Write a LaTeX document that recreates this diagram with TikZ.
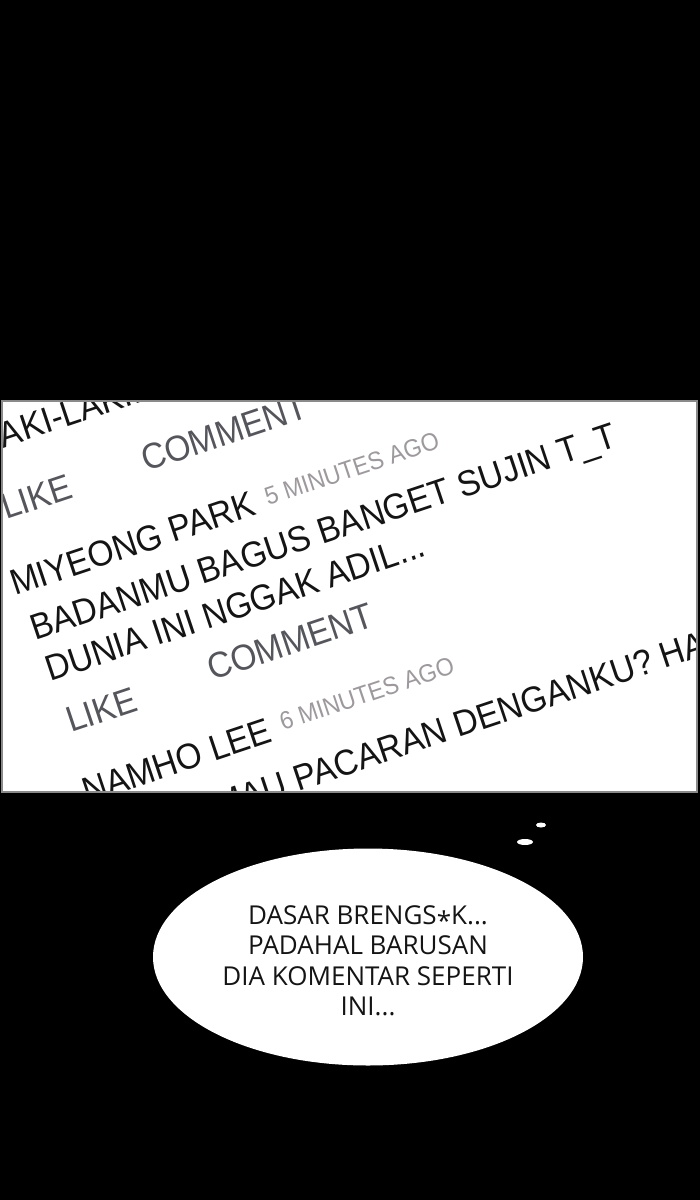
\documentclass[tikz,border=0pt]{standalone}
\usepackage{fontspec}
\newfontfamily\cmtfont[FakeStretch=0.93]{Liberation Sans}
\newfontfamily\bubfont{Open Sans}
\definecolor{txtblack}{HTML}{141414}
\definecolor{actgray}{HTML}{55555C}
\definecolor{timegray}{HTML}{9D999D}
\definecolor{edgegray}{HTML}{8A8A8A}
\tikzset{
  cmt/.style={anchor=base west, inner sep=0pt, rotate=18.5, text=txtblack,
    font=\cmtfont\fontsize{36}{36}\selectfont},
  act/.style={cmt, text=actgray},
  stamp/.style={anchor=base west, inner sep=0pt, rotate=18.5, text=timegray,
    font=\cmtfont\fontsize{25}{25}\selectfont},
  bubtext/.style={inner sep=0pt, align=center, text=txtblack,
    font=\bubfont\fontsize{26}{30.5}\selectfont}
}
\begin{document}
\begin{tikzpicture}[x=1pt,y=-1pt]
\useasboundingbox (0,0) rectangle (700,1200);
\fill[black] (0,0) rectangle (700,1200);
% panel
\fill[white] (2,401) rectangle (697,792);
\begin{scope}
\clip (2,401) rectangle (697,792);
\node[cmt] (l0) at (-14,454) {LAKI-LAKI...};
\node[act] (c1) at (146,472) {COMMENT};
\node[act] (k1) at (6,520) {LIKE};
\node[cmt] (n1) at (15,596) {MIYEONG PARK};
\node[stamp] (t1) at (268,506) {5 MINUTES AGO};
\node[cmt] (l1) at (35,641) {BADANMU BAGUS BANGET SUJIN T\_T};
\node[cmt] (l2) at (50,682) {DUNIA INI NGGAK ADIL...};
\node[act] (c2) at (212,681) {COMMENT};
\node[act] (k2) at (71,733) {LIKE};
\node[cmt] (n2) at (87,804) {NAMHO LEE};
\node[stamp] (t2) at (283,731) {6 MINUTES AGO};
\node[cmt] (l3) at (219,818) {MAU PACARAN DENGANKU? HA};
\end{scope}
\draw[edgegray, line width=1.5pt] (2,401) rectangle (697,792);
% thought bubble
\fill[white] (368,957) ellipse [x radius=215, y radius=108.5];
\fill[white] (541,825) ellipse [x radius=5, y radius=2.5];
\fill[white] (525,842) ellipse [x radius=8, y radius=3];
\node[bubtext] (bt) at (368,961) {DASAR BRENGS\raisebox{-0.22em}{*}K...\\PADAHAL BARUSAN\\DIA KOMENTAR SEPERTI\\INI...};
\end{tikzpicture}
\end{document}
